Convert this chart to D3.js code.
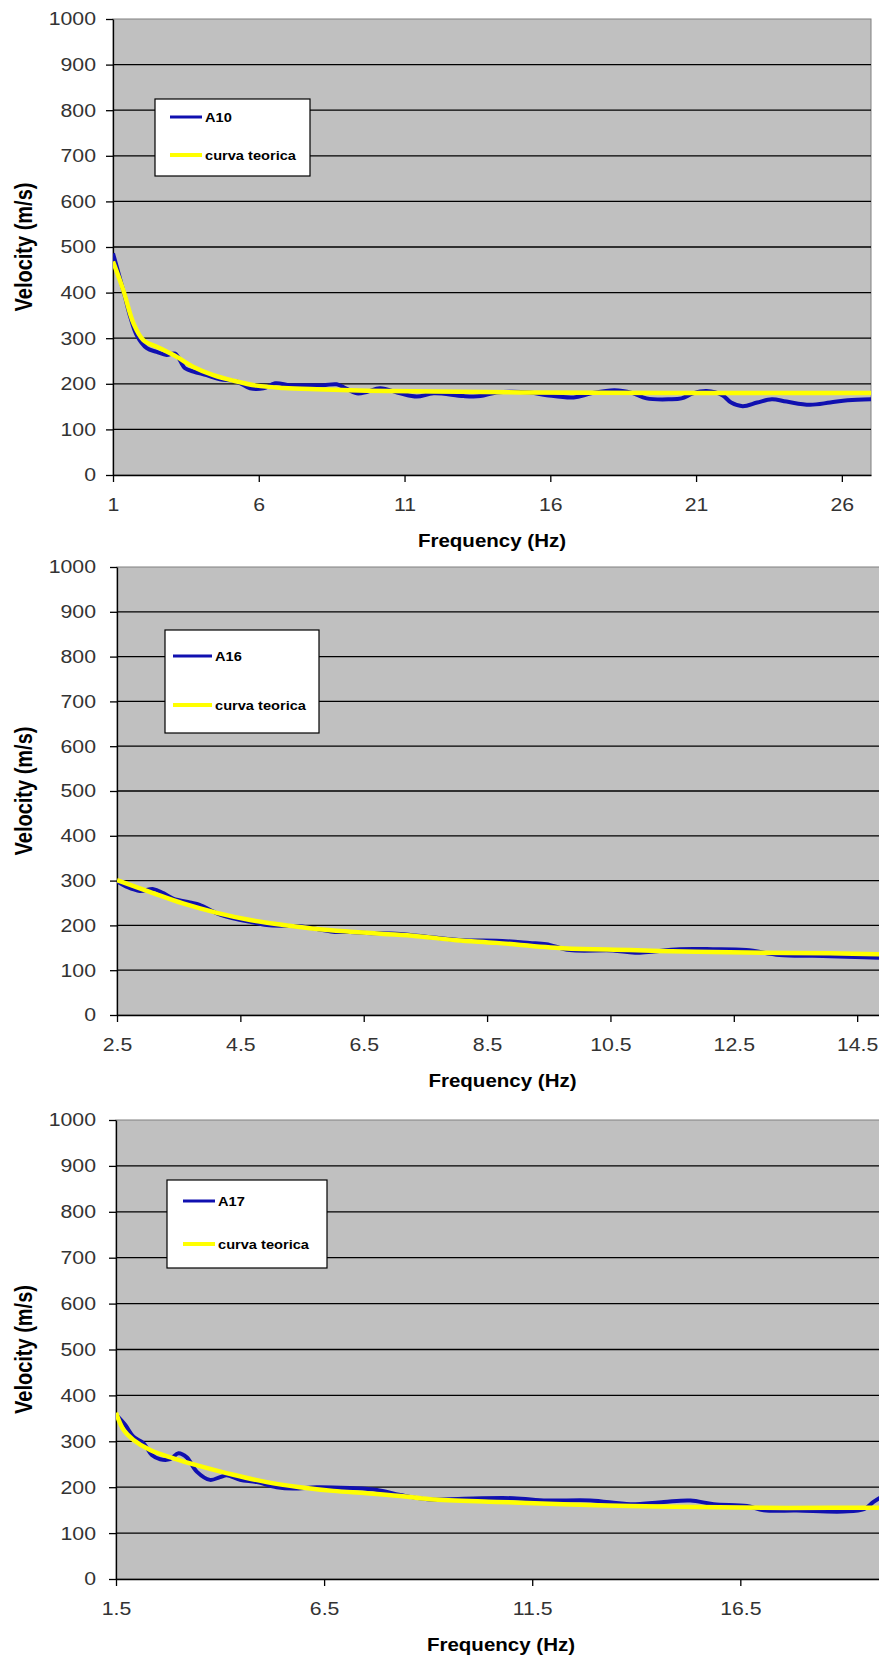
<!DOCTYPE html>
<html><head><meta charset="utf-8">
<script src="https://cdn.jsdelivr.net/npm/d3@7"></script>
<style>
body{margin:0;background:#fff}
svg{display:block}
text{font-family:"Liberation Sans",Arial,sans-serif}
</style>
</head><body>
<svg id="chart" width="879" height="1658"></svg>
<script>
// ---------- data ----------
const yTickValues = [0,100,200,300,400,500,600,700,800,900,1000];

// Panel 1 : A10
const a10XTicks = [1,6,11,16,21,26];
const a10Freq = [1,1.2,1.41,1.6,1.81,2.16,2.5,2.84,3.13,3.47,3.76,4.21,4.67,5.24,5.7,6.16,6.56,7.07,7.64,8.21,8.67,8.9,9.36,9.7,10.16,10.85,11.42,12.0,13.02,13.6,14.16,15.3,15.88,16.8,17.4,18.2,18.8,19.3,20.1,20.5,20.9,21.36,21.9,22.2,22.6,23.1,23.6,24.1,24.9,25.6,26.2,27];
const a10Vel  = [486,440,391,345,307,278,270,263,266,234,227,219,210,205,190,190,201,197,197,197,199,193,179,182,190,179,172,179,173,173,181,181,175,170,179,186,180,168,166,168,179,184,175,159,151,159,166,161,154,159,164,166];
const a10TheoFreq = [1,1.35,1.7,2.04,2.61,3.19,3.76,4.44,5.12,5.92,6.84,7.99,9.7,12,15,20,27];
const a10TheoVel  = [468,406,333,296,278,259,237,219,207,196,191,188,185,183,181,180,180];

// Panel 2 : A16
const a16XTicks = [2.5,4.5,6.5,8.5,10.5,12.5,14.5];
const a16Freq = [2.5,2.66,2.87,3.09,3.25,3.41,3.68,3.84,4.12,4.38,4.66,4.93,5.2,5.47,5.74,6.0,6.28,6.55,7.09,7.63,8.11,8.65,9.19,9.46,9.84,10.54,10.9,11.62,12.16,12.7,13.24,13.78,14.33,15];
const a16Vel  = [298,286,277,281,272,260,251,246,227,216,208,201,199,198,192,186,185,183,181,173,167,166,161,158,145,144,139,147,147,145,134,132,130,127];
const a16TheoFreq = [2.5,3.03,3.57,4.12,4.66,5.2,5.74,6.28,6.82,7.36,8.0,8.65,9.73,10.81,11.9,12.97,14.06,15];
const a16TheoVel  = [301,275,249,228,212,201,192,186,181,176,167,161,149,145,141,139,138,135];

// Panel 3 : A17
const a17XTicks = [1.5,6.5,11.5,16.5];
const a17Freq = [1.5,1.72,1.92,2.16,2.36,2.56,2.8,3.0,3.2,3.44,3.76,4.0,4.16,4.48,4.88,5.36,5.76,6.32,7.12,7.77,8.33,9.05,9.85,11.05,11.85,12.9,13.86,14.66,15.3,15.86,16.66,17.06,17.86,18.98,19.47,19.7,20];
const a17Vel  = [358,336,310,296,270,261,261,274,265,234,216,222,226,216,211,200,197,200,198,194,183,173,175,176,171,171,163,168,171,163,159,150,149,147,152,168,185];
const a17TheoFreq = [1.5,1.68,1.92,2.32,2.88,3.52,4.32,5.12,5.92,6.72,7.53,8.33,9.05,10.65,12.25,13.86,15.46,17.06,18.67,20];
const a17TheoVel  = [362,325,303,281,263,246,227,211,200,192,187,181,174,168,163,159,157,155,155,155];

const theoLabel = "curva teorica";
const xTitle = "Frequency (Hz)";
const yTitle = "Velocity (m/s)";

// ---------- layout ----------
const panels = [
  {name:"A10", left:113, right:871, top:19, bottom:475, xDomain:[1,27], xTicks:a10XTicks,
   freq:a10Freq, vel:a10Vel, tFreq:a10TheoFreq, tVel:a10TheoVel,
   legend:{x:155,y:99,w:155,h:77,s1:170,s2:202,tx:205,r1:117,r2:155}},
  {name:"A16", left:117, right:888, top:567, bottom:1015, xDomain:[2.5,15], xTicks:a16XTicks,
   freq:a16Freq, vel:a16Vel, tFreq:a16TheoFreq, tVel:a16TheoVel,
   legend:{x:165,y:630,w:154,h:103,s1:173,s2:212,tx:215,r1:656,r2:705}},
  {name:"A17", left:116, right:886, top:1120, bottom:1579, xDomain:[1.5,20], xTicks:a17XTicks,
   freq:a17Freq, vel:a17Vel, tFreq:a17TheoFreq, tVel:a17TheoVel,
   legend:{x:167,y:1180,w:160,h:88,s1:183,s2:215,tx:218,r1:1201,r2:1244}}
];

const SX = 1.15; // horizontal stretch of the original raster text
const svg = d3.select("#chart");

panels.forEach(p => {
  const x = d3.scaleLinear().domain(p.xDomain).range([p.left, p.right]);
  const y = d3.scaleLinear().domain([0,1000]).range([p.bottom, p.top]);
  const g = svg.append("g");

  // plot background
  g.append("rect").attr("x",p.left).attr("y",p.top)
    .attr("width",p.right-p.left).attr("height",p.bottom-p.top)
    .attr("fill","#c0c0c0").attr("stroke","#808080").attr("stroke-width",1);

  // gridlines
  g.append("g").selectAll("line").data(yTickValues.filter(v => v>0 && v<1000)).join("line")
    .attr("x1",p.left).attr("x2",p.right)
    .attr("y1",d=>y(d)).attr("y2",d=>y(d))
    .attr("stroke","#000").attr("stroke-width",1.3);

  // y axis
  const ya = g.append("g").attr("transform",`translate(${p.left},0)`)
    .call(d3.axisLeft(y).tickValues(yTickValues).tickFormat(d=>String(d)).tickSize(7).tickSizeOuter(0).tickPadding(10));
  ya.select(".domain").attr("stroke","#000").attr("stroke-width",1.3);
  ya.selectAll(".tick line").attr("stroke","#000").attr("stroke-width",1.3);
  ya.selectAll(".tick text").attr("font-size",18.5).attr("fill","#333")
    .attr("font-family",'"Liberation Sans",Arial,sans-serif')
    .attr("x",-(p.left-113+17)/SX).attr("transform",`scale(${SX},1)`);

  // x axis
  const xa = g.append("g").attr("transform",`translate(0,${p.bottom})`)
    .call(d3.axisBottom(x).tickValues(p.xTicks).tickFormat(d=>String(d)).tickSize(7).tickSizeOuter(0).tickPadding(16));
  xa.select(".domain").attr("stroke","#000").attr("stroke-width",1.3);
  xa.selectAll(".tick line").attr("stroke","#000").attr("stroke-width",1.3);
  xa.selectAll(".tick text").attr("font-size",18.5).attr("fill","#333")
    .attr("font-family",'"Liberation Sans",Arial,sans-serif')
    .attr("transform",`scale(${SX},1)`);

  // lines
  const clipId = "clip"+p.name;
  g.append("clipPath").attr("id",clipId).append("rect")
    .attr("x",p.left).attr("y",p.top).attr("width",p.right-p.left).attr("height",p.bottom-p.top);
  const line = d3.line().x(d=>x(d[0])).y(d=>y(d[1])).curve(d3.curveCatmullRom.alpha(0.5));
  g.append("path").datum(p.freq.map((f,i)=>[f,p.vel[i]]))
    .attr("d",line).attr("fill","none").attr("stroke","#1010b0").attr("stroke-width",4)
    .attr("stroke-linejoin","round").attr("clip-path",`url(#${clipId})`);
  g.append("path").datum(p.tFreq.map((f,i)=>[f,p.tVel[i]]))
    .attr("d",line).attr("fill","none").attr("stroke","#ffff00").attr("stroke-width",4.5)
    .attr("stroke-linejoin","round").attr("clip-path",`url(#${clipId})`);

  // axis titles
  const cx = (p.left+p.right)/2;
  g.append("text").attr("transform",`translate(${cx},${p.bottom+72}) scale(1.08,1)`)
    .attr("text-anchor","middle").attr("font-size",19).attr("font-weight","bold").attr("fill","#000")
    .text(xTitle);
  g.append("text").attr("transform",`translate(32,${(p.top+p.bottom)/2}) rotate(-90) scale(1,${SX})`)
    .attr("text-anchor","middle").attr("font-size",20).attr("font-weight","bold").attr("fill","#000")
    .text(yTitle);

  // legend
  const L = p.legend;
  const lg = g.append("g");
  lg.append("rect").attr("x",L.x).attr("y",L.y).attr("width",L.w).attr("height",L.h)
    .attr("fill","#fff").attr("stroke","#000").attr("stroke-width",1.2);
  const entries = [{label:p.name,color:"#1010b0",yy:L.r1,w:3},{label:theoLabel,color:"#ffff00",yy:L.r2,w:4}];
  entries.forEach(e => {
    lg.append("line").attr("x1",L.s1).attr("x2",L.s2).attr("y1",e.yy).attr("y2",e.yy)
      .attr("stroke",e.color).attr("stroke-width",e.w);
    lg.append("text").attr("transform",`translate(${L.tx},${e.yy}) scale(1.17,1)`)
      .attr("dy","0.36em").attr("font-size",12.5).attr("font-weight","bold").attr("fill","#000")
      .text(e.label);
  });
});
</script>
</body></html>
